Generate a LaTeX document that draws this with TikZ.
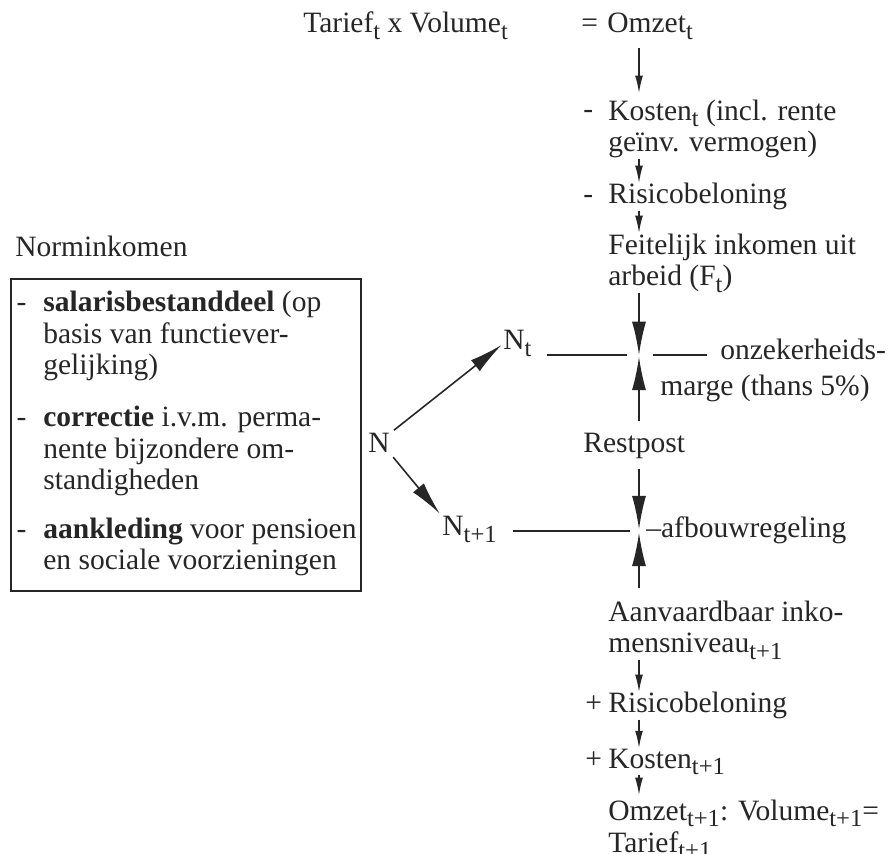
\documentclass[tikz,border=0pt]{standalone}
\usepackage{fontspec}
\setmainfont{Liberation Serif}
\usetikzlibrary{arrows.meta,positioning}
\definecolor{ink}{HTML}{262626}
% verlaagde index
\newcommand\ix[1]{\raisebox{-0.5ex}{\fontsize{14}{14}\selectfont #1}}

\begin{document}
\begin{tikzpicture}[x=0.02cm,y=-0.02cm,line cap=butt,
  every node/.style={inner sep=0pt,text=ink,font=\fontsize{16.8}{18.2}\selectfont},
  txt/.style={anchor=base west,align=left},
  arr/.style={draw=ink,line width=0.9pt,-{Latex[length=10pt,width=4.5pt]}},
  bigarr/.style={draw=ink,line width=0.9pt,-{Latex[length=19pt,width=8pt]}},
  rule/.style={draw=ink,line width=0.9pt}]
\useasboundingbox (0,0) rectangle (893,854);

% hoofdlijn
\coordinate (spine) at (639,0);
\coordinate (jt) at (639,355);
\coordinate (ja) at (639,531);

% kolom rechts (bij meer regels: basislijn van de laatste regel)
\node[txt] (tv) at (303,33) {Tarief\ix{t} x Volume\ix{t}};
\node[txt] (eq) at (581,33) {=};
\node[txt] (omzet) at (607,33) {Omzet\ix{t}};
\node[txt] (sgn1) at (583,119) {-};
\node[txt] (kosten) at (608,152) {Kosten\ix{t} (incl. rente\\geïnv. vermogen)};
\node[txt] (sgn2) at (583,204) {-};
\node[txt] (risico) at (608,204) {Risicobeloning};
\node[txt] (feit) at (608,286) {Feitelijk inkomen uit\\arbeid (F\ix{t})};
\node[txt] (onzek) at (720,360) {onzekerheids-};
\node[txt] (marge) at (660,396) {marge (thans 5\%)};
\node[txt] (rest) at (583,453) {Restpost};
\node[txt] (afbouw) at (646,538) {–afbouwregeling};
\node[txt] (aanv) at (608,653) {Aanvaardbaar inko-\\mensniveau\ix{t+1}};
\node[txt] (sgn3) at (585,713) {+};
\node[txt] (risicob) at (608,713) {Risicobeloning};
\node[txt] (sgn4) at (585,768) {+};
\node[txt] (kostenb) at (608,768) {Kosten\ix{t+1}};
\node[txt] (omzetb) at (608,852) {Omzet\ix{t+1}: Volume\ix{t+1}=\\Tarief\ix{t+1}};

% norm
\node[txt] (n) at (368,453) {N};
\node[txt] (nt) at (503,350) {N\ix{t}};
\node[txt] (ntt) at (442,536) {N\ix{t+1}};

% norminkomen
\node[txt] (norm) at (15,257) {Norminkomen};
\node[draw=ink,line width=0.9pt,anchor=north west,minimum width=7cm,minimum height=6.24cm] (box) at (10,278) {};
\node[txt] (item1) at (43,375) {\llap{-\hspace{0.34cm}}\textbf{salarisbestanddeel} (op\\basis van functiever-\\gelijking)};
\node[txt] (item2) at (43,490) {\llap{-\hspace{0.34cm}}\textbf{correctie} i.v.m. perma-\\nente bijzondere om-\\standigheden};
\node[txt] (item3) at (43,570) {\llap{-\hspace{0.34cm}}\textbf{aankleding} voor pensioen\\en sociale voorzieningen};

% pijlen omlaag
\draw[arr,shorten <=0.16cm,shorten >=0.12cm] (omzet.south -| spine) -- (kosten.north -| spine);
\draw[arr] (kosten.south -| spine) -- (risico.north -| spine);
\draw[arr] (risico.south -| spine) -- (feit.north -| spine);
\draw[bigarr] (feit.south -| spine) -- (jt);
\draw[bigarr,shorten <=0.24cm,shorten >=1pt] (rest.north -| spine) -- (jt);
\draw[bigarr,shorten <=0.18cm,shorten >=1pt] (rest.south -| spine) -- (ja);
\draw[bigarr,shorten <=0.24cm,shorten >=1pt] (aanv.north -| spine) -- (ja);
\draw[arr] (aanv.south -| spine) -- (risicob.north -| spine);
\draw[arr] (risicob.south -| spine) -- (kostenb.north -| spine);
\draw[arr,shorten >=0.08cm] (kostenb.south -| spine) -- (omzetb.north -| spine);

% dwarslijnen
\draw[rule,shorten <=0.3cm,shorten >=0.24cm] (nt.east |- jt) -- (jt);
\draw[rule,shorten <=0.28cm,shorten >=0.26cm] (jt) -- (jt -| onzek.west);
\draw[rule,shorten <=0.32cm,shorten >=0.18cm] (ntt.east |- ja) -- (ja);

% N splitst
\draw[bigarr,shorten <=0.1cm,shorten >=1pt] (n.north east) -- (nt.west);
\draw[bigarr,shorten <=0.1cm,shorten >=2pt] (n.south east) -- (ntt.north west);
\end{tikzpicture}
\end{document}
